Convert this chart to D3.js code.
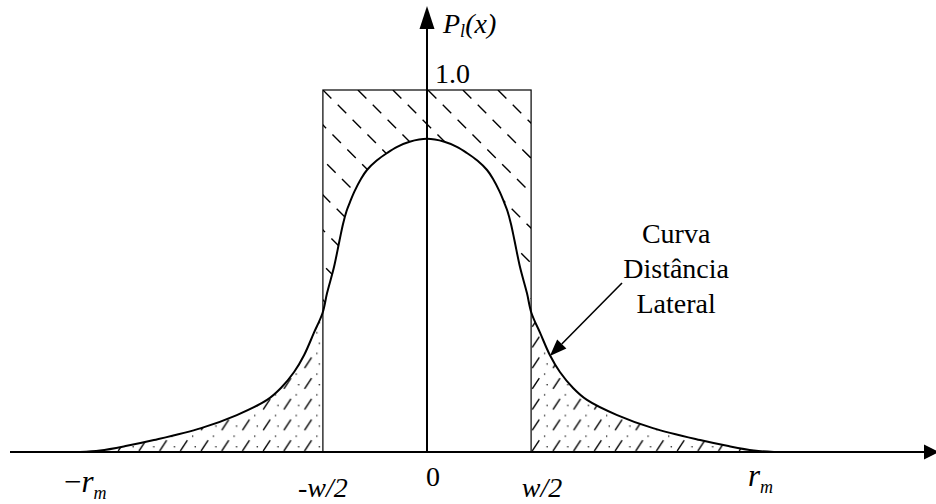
<!DOCTYPE html>
<html><head><meta charset="utf-8">
<script src="https://cdn.jsdelivr.net/npm/d3@7"></script>
<style>
body{margin:0;background:#fff}
svg{display:block}
text{font-family:"Liberation Serif","Times New Roman",serif;fill:#000}
</style>
</head><body>
<svg id="c" width="936" height="504"></svg>
<script>
// ---------------- data ----------------
const xValues = [-10, -9.42, -8.65, -7.87, -6.51, -5.48, -4.61, -4.21, -3.83, -3.54, -3.26, -3.01, -2.88, -2.68, -2.52, -2.42, -2.32, -2.22, -2.1, -1.9, -1.73, -1.45, -1.15, -0.86, -0.5, 0,
                 0.5, 0.86, 1.15, 1.45, 1.73, 1.9, 2.1, 2.22, 2.32, 2.42, 2.52, 2.68, 2.88, 3.01, 3.26, 3.54, 3.83, 4.21, 4.61, 5.48, 6.51, 7.87, 8.65, 9.42, 10];
const pValues = [0, 0.004, 0.017, 0.033, 0.066, 0.102, 0.144, 0.177, 0.221, 0.268, 0.329, 0.384, 0.439, 0.511, 0.585, 0.63, 0.665, 0.69, 0.718, 0.755, 0.779, 0.805, 0.826, 0.843, 0.857, 0.865,
                 0.857, 0.843, 0.826, 0.805, 0.779, 0.755, 0.718, 0.69, 0.665, 0.63, 0.585, 0.511, 0.439, 0.384, 0.329, 0.268, 0.221, 0.177, 0.144, 0.102, 0.066, 0.033, 0.017, 0.004, 0];
const rm = 10;              // r_m
const halfW = 3;            // w/2
const rectLevel = 1.0;      // rectangle height
const tickValues = [-10, -3, 0, 3, 10];
const tickLabels = ["−r_m", "-w/2", "0", "w/2", "r_m"];
const yLabel = "P_l(x)";
const yTickLabel = "1.0";
const noteLines = ["Curva", "Distância", "Lateral"];
const notePoint = [3.54, 0.265];   // arrow tip (on the curve)
const noteFrom = [5.62, 0.467];    // arrow start
const noteTextX = 7.18;

// ---------------- layout ----------------
const svg = d3.select("#c");
const x = d3.scaleLinear().domain([-rm, rm]).range([80, 774]);
const y = d3.scaleLinear().domain([0, 1]).range([452, 90]);
const pts = xValues.map((v, i) => [v, pValues[i]]);
const curve = d3.curveCatmullRom.alpha(0.5);
const defs = svg.append("defs");

defs.append("clipPath").attr("id", "rectClip").append("rect")
  .attr("x", x(-halfW)).attr("y", y(rectLevel))
  .attr("width", x(halfW) - x(-halfW)).attr("height", y(0) - y(rectLevel));
defs.append("clipPath").attr("id", "aboveClip").append("path")
  .attr("d", d3.area().x(d => x(d[0])).y0(y(rectLevel)).y1(d => y(d[1])).curve(curve)(pts));
const oc = defs.append("clipPath").attr("id", "outClip");
oc.append("rect").attr("x", 0).attr("y", 0).attr("width", x(-halfW)).attr("height", 504);
oc.append("rect").attr("x", x(halfW)).attr("y", 0).attr("width", 936 - x(halfW)).attr("height", 504);

// tail fill pattern: steep dashes with dots
const tile = 20.7;
const pat = defs.append("pattern").attr("id", "tailPat").attr("patternUnits", "userSpaceOnUse")
  .attr("x", x(halfW)).attr("y", y(0)).attr("width", tile).attr("height", tile);
pat.append("line").attr("x1", 1.2).attr("y1", 19.5).attr("x2", 8.2).attr("y2", 9)
  .attr("stroke", "#000").attr("stroke-width", 1.4);
pat.append("circle").attr("cx", 13.5).attr("cy", 5).attr("r", 0.75).attr("fill", "#000");
pat.append("circle").attr("cx", 16).attr("cy", 15.5).attr("r", 0.75).attr("fill", "#000");

// upper hatching "\"
const gUp = svg.append("g").attr("clip-path", "url(#rectClip)")
  .append("g").attr("clip-path", "url(#aboveClip)");
const topY = y(rectLevel);
d3.range(-14, 8).forEach(k => {
  const x0 = x(-halfW) + 35 * k;
  gUp.append("line").attr("x1", x0).attr("y1", topY).attr("x2", x0 + 420).attr("y2", topY + 420)
    .attr("stroke", "#000").attr("stroke-width", 1.4).attr("stroke-dasharray", "12,9");
});

// lower hatched tails
svg.append("g").attr("clip-path", "url(#outClip)")
  .append("path")
  .attr("d", d3.area().x(d => x(d[0])).y0(y(0)).y1(d => y(d[1])).curve(curve)(pts))
  .attr("fill", "url(#tailPat)");

// rectangle
svg.append("rect")
  .attr("x", x(-halfW)).attr("y", y(rectLevel))
  .attr("width", x(halfW) - x(-halfW)).attr("height", y(0) - y(rectLevel))
  .attr("fill", "none").attr("stroke", "#000").attr("stroke-width", 1.2);

// curve
svg.append("path")
  .attr("d", d3.line().x(d => x(d[0])).y(d => y(d[1])).curve(curve)(pts))
  .attr("fill", "none").attr("stroke", "#000").attr("stroke-width", 2);

// axes
svg.append("line").attr("x1", 10).attr("x2", 926).attr("y1", y(0)).attr("y2", y(0))
  .attr("stroke", "#000").attr("stroke-width", 2);
svg.append("path").attr("d", `M924,${y(0) - 7.5}L939,${y(0)}L924,${y(0) + 7.5}Z`).attr("fill", "#000");
svg.append("line").attr("x1", x(0)).attr("x2", x(0)).attr("y1", y(0)).attr("y2", 26)
  .attr("stroke", "#000").attr("stroke-width", 2);
svg.append("path").attr("d", `M${x(0) - 7.5},29L${x(0)},6L${x(0) + 7.5},29Z`).attr("fill", "#000");

// tick labels
function addLabel(sel, label, big, sub, subDy) {
  const parts = label.split("_");
  sel.append("tspan").text(parts[0]).attr("font-size", big);
  if (parts.length > 1) sel.append("tspan").text(parts[1]).attr("font-size", sub).attr("dy", subDy);
}
const tickLayout = [
  {dx: -16, base: 492, anchor: "start", italic: true, big: 31, subDy: 7},
  {dx: 0, base: 497, anchor: "middle", italic: true, big: 28, subDy: 0},
  {dx: -1, base: 486, anchor: "start", italic: false, big: 28, subDy: 0},
  {dx: 11, base: 497, anchor: "middle", italic: true, big: 28, subDy: 0},
  {dx: -26, base: 486, anchor: "start", italic: true, big: 31, subDy: 7}
];
tickValues.forEach((v, i) => {
  const L = tickLayout[i];
  const t = svg.append("text").attr("x", x(v) + L.dx).attr("y", L.base)
    .attr("text-anchor", L.anchor).attr("font-style", L.italic ? "italic" : "normal");
  const lab = tickLabels[i];
  if (lab.startsWith("−")) {
    t.append("tspan").text("−").attr("font-size", 31).attr("font-style", "normal");
    addLabel(t, lab.slice(1), 31, 18, L.subDy);
  } else addLabel(t, lab, L.big, 18, L.subDy);
});

// y label
const yl = svg.append("text").attr("x", x(0) + 16).attr("y", 33).attr("font-style", "italic").attr("font-size", 28);
const yp = yLabel.split("_");
yl.append("tspan").text(yp[0]);
yl.append("tspan").text(yp[1][0]).attr("font-size", 18).attr("dy", 4);
yl.append("tspan").text(yp[1].slice(1)).attr("dy", -4);
svg.append("text").attr("x", x(0) + 8).attr("y", y(rectLevel) - 7).attr("font-size", 28).text(yTickLabel);

// annotation
noteLines.forEach((s, i) => {
  svg.append("text").attr("x", x(noteTextX)).attr("y", 243 + 35 * i).attr("text-anchor", "middle")
    .attr("font-size", 28).text(s);
});
const ax1 = x(noteFrom[0]), ay1 = y(noteFrom[1]), ax2 = x(notePoint[0]), ay2 = y(notePoint[1]);
const ang = Math.atan2(ay2 - ay1, ax2 - ax1);
const hl = 17, hw = 6.5;
const bx = ax2 - hl * Math.cos(ang), by = ay2 - hl * Math.sin(ang);
svg.append("line").attr("x1", ax1).attr("y1", ay1).attr("x2", bx).attr("y2", by)
  .attr("stroke", "#000").attr("stroke-width", 1.6);
svg.append("path").attr("d",
  `M${ax2},${ay2}L${bx + hw * Math.sin(ang)},${by - hw * Math.cos(ang)}L${bx - hw * Math.sin(ang)},${by + hw * Math.cos(ang)}Z`)
  .attr("fill", "#000");
</script>
</body></html>
